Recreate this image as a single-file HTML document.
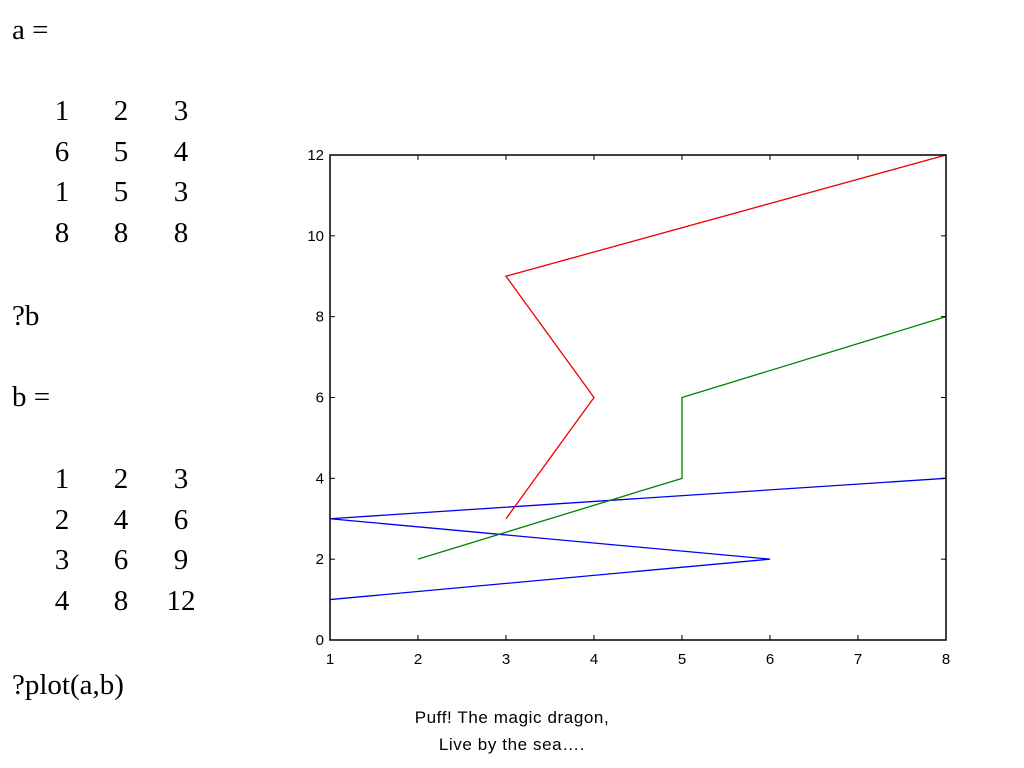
<!DOCTYPE html>
<html><head><meta charset="utf-8"><style>
body{margin:0;background:#fff;width:1024px;height:768px;overflow:hidden;position:relative}
.t{position:absolute;font-family:"Liberation Serif",serif;font-size:29px;color:#000;line-height:1}
.n{position:absolute;font-family:"Liberation Serif",serif;font-size:29px;width:40px;text-align:center;line-height:1}
.cap{position:absolute;left:312px;width:400px;text-align:center;font-family:"Liberation Sans",sans-serif;font-size:17px;letter-spacing:0.6px;line-height:27px;top:704px}
</style></head><body>
<div class="t" style="left:12px;top:16px">a =</div>
<div id="ma"></div>
<div class="t" style="left:12px;top:302px">?b</div>
<div class="t" style="left:12px;top:383px">b =</div>
<div id="mb"></div>
<div class="t" style="left:12px;top:671px">?plot(a,b)</div>
<div class="cap">Puff! The magic dragon,<br>Live by the sea….</div>
<svg id="chart" width="1024" height="768" style="position:absolute;left:0;top:0"></svg>
<script>
const matA=[[1,2,3],[6,5,4],[1,5,3],[8,8,8]];
const matB=[[1,2,3],[2,4,6],[3,6,9],[4,8,12]];
const seriesX=[[1,6,1,8],[2,5,5,8],[3,4,3,8]];
const seriesY=[[1,2,3,4],[2,4,6,8],[3,6,9,12]];
const colors=['#0000ee','#008000','#ee0000'];
const xTicks=[1,2,3,4,5,6,7,8];
const yTicks=[0,2,4,6,8,10,12];
function drawMat(id,m,top){const c=document.getElementById(id);const cols=[62,121,181];
m.forEach((r,i)=>r.forEach((v,j)=>{const d=document.createElement('div');d.className='n';


d.style.left=(cols[j]-20)+'px';d.style.top=(top+i*40.7)+'px';d.textContent=v;c.appendChild(d);}));}
drawMat('ma',matA,97);drawMat('mb',matB,465);
const L=330,R=946,T=155,B=640;
const sx=v=>L+(v-1)/(8-1)*(R-L), sy=v=>B-v/12*(B-T);
const svg=document.getElementById('chart');const NS='http://www.w3.org/2000/svg';
function el(t,a,name){const e=document.createElementNS(NS,t);for(const k in a)e.setAttribute(k,a[k]);


svg.appendChild(e);return e;}
seriesX.forEach((xs,i)=>{el('polyline',{points:xs.map((x,k)=>sx(x)+','+sy(seriesY[i][k])).join(' '),fill:'none',stroke:colors[i],'stroke-width':1.3},'series-'+(i+1));});
el('rect',{x:L,y:T,width:R-L,height:B-T,fill:'none',stroke:'#000','stroke-width':1.5},'plot-frame');
xTicks.forEach(v=>{const x=sx(v);el('line',{x1:x,x2:x,y1:B,y2:B-5,stroke:'#000'},'x-tick');el('line',{x1:x,x2:x,y1:T,y2:T+5,stroke:'#000'},'x-tick-top');
const t=el('text',{x:x,y:B+24,'text-anchor':'middle','font-family':'Liberation Sans, sans-serif','font-size':15},'x-tick-label');t.textContent=v;});
yTicks.forEach(v=>{const y=sy(v);el('line',{x1:L,x2:L+5,y1:y,y2:y,stroke:'#000'},'y-tick');el('line',{x1:R,x2:R-5,y1:y,y2:y,stroke:'#000'},'y-tick-right');
const t=el('text',{x:L-6,y:y+5,'text-anchor':'end','font-family':'Liberation Sans, sans-serif','font-size':15},'y-tick-label');t.textContent=v;});
</script>
</body></html>
